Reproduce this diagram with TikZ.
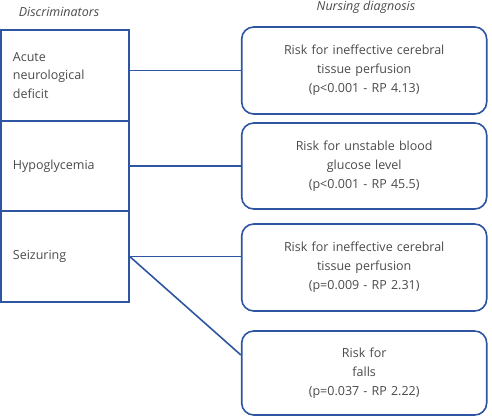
\documentclass[tikz,border=0pt]{standalone}
\usepackage{fontspec}
\setmainfont{Open Sans}
\usetikzlibrary{calc}
\definecolor{frame}{HTML}{2E55A2}
\definecolor{txt}{HTML}{4A4A4A}
\begin{document}
\begin{tikzpicture}[x=1pt,y=-1pt,
  leftbox/.style={draw=frame, line width=1.6pt, rectangle, minimum width=128pt,
    text width=104pt, align=left, inner xsep=12pt, text=txt, font=\fontsize{12.5}{18.5}\selectfont},
  diagbox/.style={draw=frame, line width=1.6pt, rectangle, rounded corners=12pt, minimum width=245pt,
    text width=225pt, align=center, text=txt, font=\fontsize{12.5}{19}\selectfont},
  head/.style={text=txt, font=\fontsize{12.5}{14}\selectfont\itshape},
  link/.style={draw=frame, line width=1.6pt}]
\useasboundingbox (0,0) rectangle (492,416);
\node[head] (h1) at (59,12) {Discriminators};
\node[head] (h2) at (366,7) {Nursing diagnosis};
\node[leftbox, minimum height=91pt] (l1) at (64.9,75.5) {Acute\\neurological\\deficit};
\node[leftbox, minimum height=90pt] (l2) at (64.9,166) {Hypoglycemia};
\node[leftbox, minimum height=91pt] (l3) at (64.9,256.5) {Seizuring};
\node[diagbox, minimum height=87pt] (r1) at (364.2,70.5) {Risk for ineffective cerebral\\tissue perfusion\\(p<0.001 - RP 4.13)};
\node[diagbox, minimum height=86pt] (r2) at (364.2,166) {Risk for unstable blood\\glucose level\\(p<0.001 - RP 45.5)};
\node[diagbox, minimum height=87pt] (r3) at (364.2,267.5) {Risk for ineffective cerebral\\tissue perfusion\\(p=0.009 - RP 2.31)};
\node[diagbox, minimum height=84pt] (r4) at (364.2,373) {Risk for\\falls\\(p=0.037 - RP 2.22)};
\coordinate (c4) at ($(r4.west)+(0,-18)$);
\draw[link] (r1.west -| l1.east) -- (r1.west);
\draw[link] (l2.east) -- (r2.west);
\draw[link] (l3.east) -- (l3.east -| r3.west);
\draw[link] (l3.east) -- (c4);
\end{tikzpicture}
\end{document}
